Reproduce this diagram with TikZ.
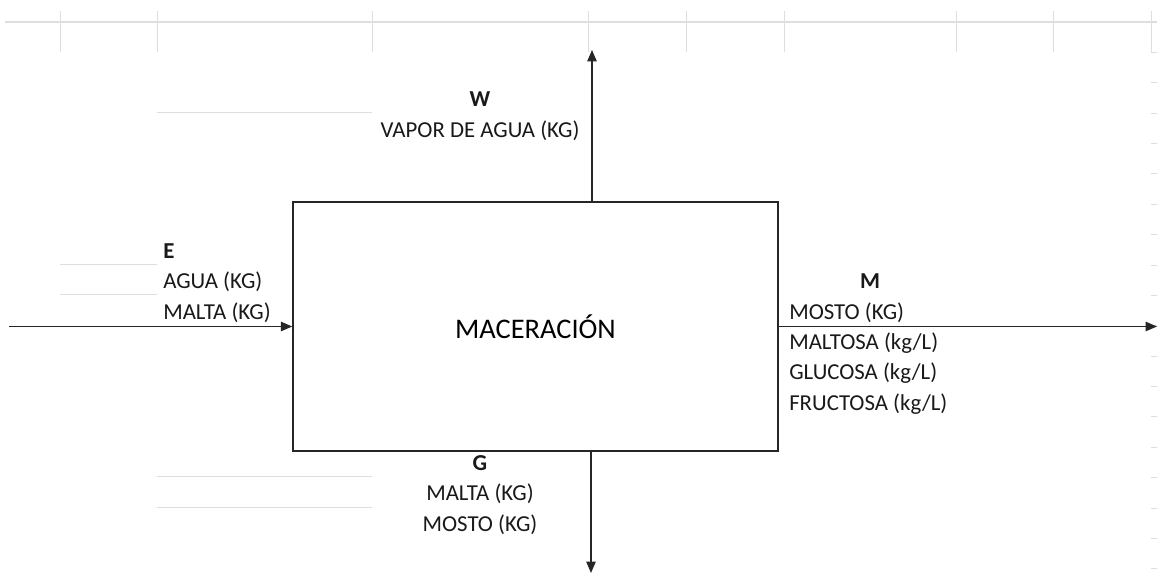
\documentclass[tikz,border=0pt]{standalone}
\usepackage{fontspec}
\setmainfont{Carlito}
\usetikzlibrary{arrows.meta}

\def\rowh{30.38}
\colorlet{sheet grid}{black!13}
\colorlet{box edge}{black!85}
\tikzset{sheetline/.style={draw=sheet grid, line width=0.75pt},
    processbox/.style={draw=box edge, line width=1.1pt, inner sep=0pt,
        minimum width=363.75pt, minimum height=186.75pt,
        font=\fontsize{21.3}{25}\selectfont},
    flow/.style={draw=box edge, line width=1.1pt, -{Triangle[length=8.5pt, width=7pt]}},
    flowtext/.style={anchor=base, inner sep=0pt, text=black!90,
        font=\fontsize{17.1}{20}\selectfont},
    headtext/.style={flowtext, font=\fontsize{17.1}{20}\selectfont\bfseries}}

\begin{document}
\begin{tikzpicture}[x=0.75pt, y=-0.75pt]
        \useasboundingbox (0,0) rectangle (1157,574);

        % Sheet grid
        \draw[sheetline, line width=1.1pt] (5,22) -- (1157,22);
        \foreach \x in {60,157,372,588,686,784,956,1053,1151}
            \draw[sheetline] (\x,11) -- (\x,52);
        \foreach \k in {1,...,18}
            \draw[sheetline] (1151,{22+\k*\rowh}) -- (1157,{22+\k*\rowh});
        \draw[sheetline] (157,113) -- (372,113);
        \draw[sheetline] (60,264) -- (157,264);
        \draw[sheetline] (60,294.6) -- (157,294.6);
        \draw[sheetline] (157,476.4) -- (372,476.4);
        \draw[sheetline] (157,507) -- (372,507);

        % Process block
        \node[processbox] (macer) at (535.5,326.5) {MACERACIÓN};

        % Streams
        \coordinate (eIn) at (9,0);
        \coordinate (mOut) at (1157,0);
        \coordinate (wOut) at (592,50);
        \coordinate (gOut) at (591,573);
        \draw[flow] (eIn |- macer.west) -- (macer.west);
        \draw[flow] (macer.east) -- (macer.east -| mOut);
        \draw[flow] (macer.north -| wOut) -- (wOut);
        \draw[flow] (macer.south -| gOut) -- (gOut);

        % Stream W
        \node[headtext] (wHead) at (480,107) {W};
        \node[flowtext] (wVapor) at (480,137.3) {VAPOR DE AGUA (KG)};

        % Stream E
        \node[headtext, anchor=base west] (eHead) at (163,258) {E};
        \node[flowtext, anchor=base west] (eAgua) at (163,288.6) {AGUA (KG)};
        \node[flowtext, anchor=base west] (eMalta) at (163,319) {MALTA (KG)};

        % Stream M
        \node[headtext] (mHead) at (870,288.6) {M};
        \node[flowtext, anchor=base west] (mMosto) at (789,319) {MOSTO (KG)};
        \node[flowtext, anchor=base west] (mMaltosa) at (789,349.4) {MALTOSA (kg/L)};
        \node[flowtext, anchor=base west] (mGlucosa) at (789,379.8) {GLUCOSA (kg/L)};
        \node[flowtext, anchor=base west] (mFructosa) at (789,410.2) {FRUCTOSA (kg/L)};

        % Stream G
        \node[headtext] (gHead) at (480,470.4) {G};
        \node[flowtext] (gMalta) at (480,500.8) {MALTA (KG)};
        \node[flowtext] (gMosto) at (480,531.2) {MOSTO (KG)};
    \end{tikzpicture}
\end{document}
